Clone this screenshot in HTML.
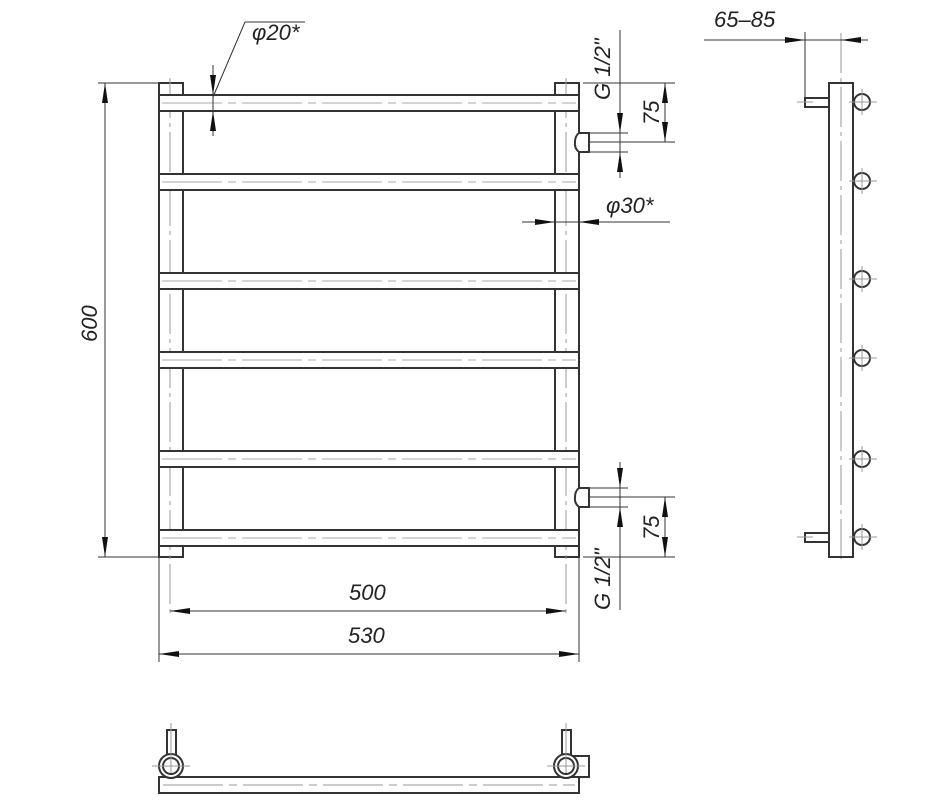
<!DOCTYPE html>
<html><head><meta charset="utf-8"><style>
html,body{margin:0;padding:0;background:#fff;}
svg{display:block}
text{font-family:"Liberation Sans",sans-serif;font-style:italic;font-size:22px;fill:#222;}
</style></head><body>
<svg width="950" height="800" viewBox="0 0 950 800" xmlns="http://www.w3.org/2000/svg">
<g fill="none" stroke="#333" stroke-width="2">
<rect x="159" y="83" width="24" height="474"/>
<rect x="555" y="83" width="24" height="474"/>
</g>
<g stroke="#999" stroke-width="1" stroke-dasharray="40,5,4,5">
<line x1="170" y1="78" x2="170" y2="617"/>
<line x1="566" y1="78" x2="566" y2="617"/>
<line x1="841" y1="33" x2="841" y2="560"/>
</g>
<g fill="#fff" stroke="#333" stroke-width="2">
<rect x="159" y="95" width="420" height="16"/>
<rect x="159" y="174" width="420" height="16"/>
<rect x="159" y="273" width="420" height="16"/>
<rect x="159" y="352" width="420" height="16"/>
<rect x="159" y="451" width="420" height="16"/>
<rect x="159" y="530" width="420" height="16"/>
</g>
<g stroke="#aaa" stroke-width="1" stroke-dasharray="60,6,8,6">
<line x1="162" y1="103" x2="576" y2="103"/><line x1="162" y1="182" x2="576" y2="182"/>
<line x1="162" y1="281" x2="576" y2="281"/><line x1="162" y1="360" x2="576" y2="360"/>
<line x1="162" y1="459" x2="576" y2="459"/><line x1="162" y1="538" x2="576" y2="538"/>
</g>
<g fill="#fff" stroke="#333" stroke-width="2">
<path d="M579,133 L589,133 L589,152 L579,152 Q574,148 575,142 Q575,136 579,133 Z"/>
<path d="M579,488 L589,488 L589,507 L579,507 Q574,503 575,497 Q575,491 579,488 Z"/>
</g>
<g stroke="#333" stroke-width="1" fill="none">
<line x1="98" y1="83" x2="159" y2="83"/><line x1="98" y1="557" x2="159" y2="557"/>
<line x1="105" y1="83" x2="105" y2="557"/>
<line x1="159" y1="557" x2="159" y2="662"/><line x1="579" y1="557" x2="579" y2="662"/>
<line x1="170" y1="611" x2="566" y2="611"/>
<line x1="159" y1="654" x2="579" y2="654"/>
<line x1="213" y1="65" x2="213" y2="136"/>
<line x1="213" y1="97" x2="245" y2="22"/><line x1="245" y1="22" x2="305" y2="22"/>
<line x1="589" y1="133" x2="628" y2="133"/><line x1="589" y1="152" x2="628" y2="152"/>
<line x1="620" y1="30" x2="620" y2="178"/>
<line x1="583" y1="83" x2="675" y2="83"/><line x1="589" y1="142" x2="675" y2="142"/>
<line x1="665" y1="83" x2="665" y2="142"/>
<line x1="522" y1="222" x2="670" y2="222"/>
<line x1="589" y1="488" x2="628" y2="488"/><line x1="589" y1="507" x2="628" y2="507"/>
<line x1="620" y1="462" x2="620" y2="610"/>
<line x1="589" y1="497" x2="675" y2="497"/><line x1="583" y1="557" x2="675" y2="557"/>
<line x1="665" y1="497" x2="665" y2="557"/>
<line x1="704" y1="40" x2="868" y2="40"/>
<line x1="805" y1="32" x2="805" y2="98"/>
</g>
<g fill="#111">
<path d="M105,83 l-3,20 l6,0z"/><path d="M105,557 l-3,-20 l6,0z"/>
<path d="M170,611 l20,-3 l0,6z"/><path d="M566,611 l-20,-3 l0,6z"/>
<path d="M159,654 l20,-3 l0,6z"/><path d="M579,654 l-20,-3 l0,6z"/>
<path d="M213,95 l-3,-20 l6,0z"/><path d="M213,111 l-3,20 l6,0z"/>
<path d="M620,133 l-3,-20 l6,0z"/><path d="M620,152 l-3,20 l6,0z"/>
<path d="M665,83 l-3,20 l6,0z"/><path d="M665,142 l-3,-20 l6,0z"/>
<path d="M555,222 l-20,-3 l0,6z"/><path d="M579,222 l20,-3 l0,6z"/>
<path d="M620,488 l-3,-20 l6,0z"/><path d="M620,507 l-3,20 l6,0z"/>
<path d="M665,497 l-3,20 l6,0z"/><path d="M665,557 l-3,-20 l6,0z"/>
<path d="M805,40 l-20,-3 l0,6z"/><path d="M841,40 l20,-3 l0,6z"/>
</g>
<g fill="#fff" stroke="#333" stroke-width="2">
<rect x="829" y="83" width="24" height="474" fill="none"/>
<rect x="805" y="98" width="24" height="9"/>
<rect x="805" y="533" width="24" height="9"/>
<circle cx="862" cy="102" r="8"/><circle cx="862" cy="181" r="8"/>
<circle cx="862" cy="279" r="8"/><circle cx="862" cy="358" r="8"/>
<circle cx="862" cy="459" r="8"/><circle cx="862" cy="537" r="8"/>
</g>
<g stroke="#999" stroke-width="1">
<path d="M849,102h28M862,89v26M849,181h28M862,168v26M849,279h28M862,266v26M849,358h28M862,345v26M849,459h28M862,446v26M849,537h28M862,524v26M797,102h16M797,537h16"/>
</g>
<g fill="#fff" stroke="#333" stroke-width="2">
<rect x="159" y="777" width="420" height="16"/>
<rect x="167" y="730" width="9" height="26"/>
<rect x="562" y="730" width="9" height="26"/>
<rect x="573" y="756" width="16" height="21"/>
<circle cx="171" cy="766" r="12"/><circle cx="171" cy="766" r="8"/>
<circle cx="566" cy="766" r="12"/><circle cx="566" cy="766" r="8"/>
</g>
<g stroke="#999" stroke-width="1">
<path d="M152,766h38M171,723v50M547,766h38M566,723v50"/>
<line x1="163" y1="785" x2="575" y2="785" stroke-dasharray="60,6,8,6"/>
</g>
<text x="252" y="40">φ20*</text>
<text x="606" y="213">φ30*</text>
<text x="349" y="600">500</text>
<text x="348" y="643">530</text>
<text x="714" y="27">65–85</text>
<text transform="translate(97,342) rotate(-90)">600</text>
<text transform="translate(659,125) rotate(-90)">75</text>
<text transform="translate(659,540) rotate(-90)">75</text>
<text transform="translate(610,100) rotate(-90)">G 1/2"</text>
<text transform="translate(610,610) rotate(-90)">G 1/2"</text>
</svg>
</body></html>
